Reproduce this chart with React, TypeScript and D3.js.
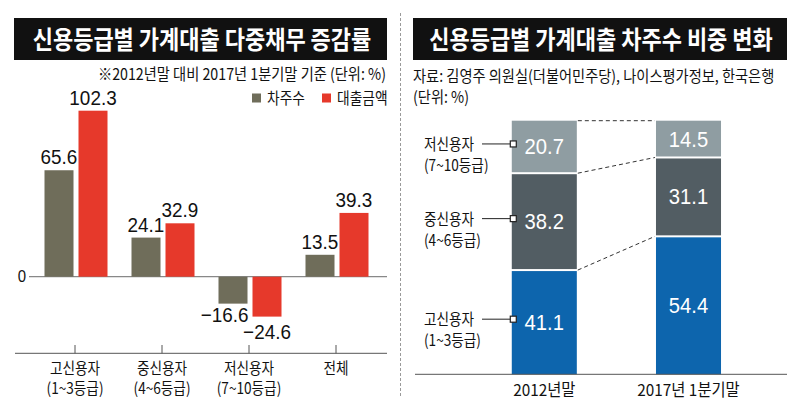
import React from "react";
import * as d3 from "d3";

// ---------- data ----------
const leftCategories = ["고신용자", "중신용자", "저신용자", "전체"];
const leftCategorySub = ["(1~3등급)", "(4~6등급)", "(7~10등급)", ""];
const seriesNames = ["차주수", "대출금액"];
const borrowerChange = [65.6, 24.1, -16.6, 13.5];
const amountChange = [102.3, 32.9, -24.6, 39.3];

const periods = ["2012년말", "2017년 1분기말"];
const shareKeys = ["high", "mid", "low"];
const highShare = [41.1, 54.4];
const midShare = [38.2, 31.1];
const lowShare = [20.7, 14.5];
const shareLabels = ["고신용자", "중신용자", "저신용자"];
const shareSub = ["(1~3등급)", "(4~6등급)", "(7~10등급)"];

const leftTitle = "신용등급별 가계대출 다중채무 증감률";
const leftNote = "※2012년말 대비 2017년 1분기말 기준 (단위: %)";
const rightTitle = "신용등급별 가계대출 차주수 비중 변화";
const rightSource = "자료: 김영주 의원실(더불어민주당), 나이스평가정보, 한국은행";
const rightUnit = "(단위: %)";

// ---------- styles ----------
const KR = "'Noto Sans CJK KR', 'Noto Sans', sans-serif";
const NUM = "'Liberation Sans', Arial, sans-serif";
const SERIES_COLORS = ["#6f6d5a", "#e6392b"];
const SHARE_COLORS: Record<string, string> = { high: "#0d65ad", mid: "#525d63", low: "#8f9da2" };

function T(props: {
  x: number; y: number; sx?: number; anchor?: string; size?: number; weight?: string | number;
  fill?: string; family?: string; children: React.ReactNode;
}) {
  const { x, y, sx = 0.87, anchor = "start", size = 16, weight = "normal", fill = "#111", family = KR, children } = props;
  return (
    <text
      transform={`translate(${x},${y}) scale(${sx},1)`}
      textAnchor={anchor as any}
      fontSize={size}
      fontWeight={weight as any}
      fill={fill}
      fontFamily={family}
    >
      {children}
    </text>
  );
}

export default function App() {
  const W = 800, H = 415;

  // ----- left chart scales -----
  const x0 = d3.scaleBand<string>().domain(leftCategories).range([32.5, 380.5]).paddingInner(0).paddingOuter(0);
  const x1 = d3.scaleBand<string>().domain(seriesNames).range([12, 75]).paddingInner(0.147);
  const y = d3.scaleLinear().domain([-40, 110]).range([341.6, 98.2]);
  const leftValues = [borrowerChange, amountChange];

  // ----- right chart scales -----
  const xr = d3.scaleBand<string>().domain(periods).range([472.2, 760.6]).paddingInner(0.549).paddingOuter(0.2745);
  const yr = d3.scaleLinear().domain([0, 100]).range([374.3, 120.7]);
  const table = periods.map((p, i) => ({ period: p, high: highShare[i], mid: midShare[i], low: lowShare[i] }));
  const stacked = d3.stack<any>().keys(shareKeys)(table);
  const bw = xr.bandwidth();

  return (
    <svg width={W} height={H} style={{ position: "absolute", left: 0, top: 0, background: "#fff" }}>
      <rect x={0} y={0} width={W} height={H} fill="#fff" />

      {/* separator */}
      <line x1={400.5} x2={400.5} y1={13} y2={398} stroke="#9a9a9a" strokeWidth={1} strokeDasharray="3,2" />

      {/* ===== LEFT PANEL ===== */}
      <rect x={14} y={18} width={373} height={42} fill="#111" />
      <T x={202} y={49} anchor="middle" size={25} weight="bold" fill="#fff" sx={0.88}>{leftTitle}</T>
      <T x={386} y={80} anchor="end" size={16} sx={0.89}>{leftNote}</T>

      {/* legend */}
      {seriesNames.map((s, i) => {
        const lx = i === 0 ? 252 : 322;
        return (
          <g key={s}>
            <rect x={lx} y={93.5} width={9} height={9} fill={SERIES_COLORS[i]} />
            <T x={lx + 15} y={104} size={16} sx={0.86}>{s}</T>
          </g>
        );
      })}

      {/* zero line */}
      <line x1={29} x2={387} y1={y(0)} y2={y(0)} stroke="#888" strokeWidth={1.2} />
      <T x={26} y={y(0) + 5.5} anchor="end" size={17} family={NUM} sx={0.88}>0</T>

      {/* bars */}
      {leftCategories.map((c, ci) => (
        <g key={c} transform={`translate(${x0(c)},0)`}>
          {seriesNames.map((s, si) => {
            const v = leftValues[si][ci];
            const bx = x1(s)!;
            const top = y(Math.max(0, v));
            const bot = y(Math.min(0, v));
            let lx = bx + x1.bandwidth() / 2;
            let anchor = "middle";
            let ly = top - 6;
            if (v < 0) {
              if (si === 0) { lx = bx + x1.bandwidth() + 1; anchor = "end"; ly = bot + 18; }
              else { ly = bot + 22; }
            }
            return (
              <g key={s}>
                <rect x={bx} y={top} width={x1.bandwidth()} height={bot - top} fill={SERIES_COLORS[si]} />
                <T x={lx} y={ly} anchor={anchor} size={21} family={NUM} sx={0.9}>
                  {v < 0 ? "\u2212" + Math.abs(v).toFixed(1) : v.toFixed(1)}
                </T>
              </g>
            );
          })}
        </g>
      ))}

      {/* bottom axis */}
      <line x1={15} x2={387} y1={353.3} y2={353.3} stroke="#555" strokeWidth={1} />
      {leftCategories.map((c, ci) => {
        const cx = x0(c)! + x0.bandwidth() / 2 - 1;
        return (
          <g key={c}>
            <line x1={cx} x2={cx} y1={345} y2={353.3} stroke="#555" strokeWidth={1} />
            <T x={cx} y={374} anchor="middle" size={15.5} sx={0.88}>{c}</T>
            {leftCategorySub[ci] && <T x={cx} y={394} anchor="middle" size={15.5} sx={0.88}>{leftCategorySub[ci]}</T>}
          </g>
        );
      })}

      {/* ===== RIGHT PANEL ===== */}
      <rect x={413} y={18} width={374} height={42} fill="#111" />
      <T x={601} y={49} anchor="middle" size={25} weight="bold" fill="#fff" sx={0.88}>{rightTitle}</T>
      <T x={413} y={82} size={16} sx={0.89}>{rightSource}</T>
      <T x={413} y={102.5} size={16} sx={0.89}>{rightUnit}</T>

      {/* stacked bars */}
      {stacked.map((ser) => (
        <g key={ser.key}>
          {ser.map((d: any, i: number) => {
            const bx = xr(periods[i])!;
            const yTop = yr(d[1]) + (d[1] < 99.99 ? 1 : 0);
            const yBot = yr(d[0]) - (d[0] > 0.01 ? 1 : 0);
            const mid = (yr(d[1]) + yr(d[0])) / 2;
            const v = d[1] - d[0];
            return (
              <g key={i}>
                <rect x={bx} y={yTop} width={bw} height={yBot - yTop} fill={SHARE_COLORS[ser.key]} />
                <T x={bx + bw / 2} y={mid + 7.5} anchor="middle" size={22} family={NUM} fill="#fff" sx={0.92}>
                  {v.toFixed(1)}
                </T>
              </g>
            );
          })}
        </g>
      ))}

      {/* dashed connectors */}
      {stacked.map((ser) => {
        const a = ser[0], b = ser[1];
        return (
          <line
            key={"c" + ser.key}
            x1={xr(periods[0])! + bw + 1}
            y1={yr(a[1])}
            x2={xr(periods[1])! - 1}
            y2={yr(b[1])}
            stroke="#333"
            strokeWidth={1}
            strokeDasharray="4,3"
          />
        );
      })}

      {/* left labels with markers */}
      {stacked.map((ser, k) => {
        const d = ser[0];
        const my = (yr(d[1]) + yr(d[0])) / 2 - 3;
        const mx = xr(periods[0])! + 1.5;
        return (
          <g key={"l" + ser.key}>
            <line x1={482} x2={mx - 3} y1={my} y2={my} stroke="#222" strokeWidth={1} />
            <rect x={mx - 3} y={my - 3} width={6} height={6} fill="#fff" stroke="#222" strokeWidth={1.2} />
            <T x={424} y={my + 6} size={15.5} sx={0.88}>{shareLabels[k]}</T>
            <T x={424} y={my + 27} size={15.5} sx={0.88}>{shareSub[k]}</T>
          </g>
        );
      })}

      {/* right bottom axis */}
      <line x1={415} x2={787} y1={374.3} y2={374.3} stroke="#555" strokeWidth={1} />
      {periods.map((p) => (
        <T key={p} x={xr(p)! + bw / 2} y={396} anchor="middle" size={16.5} sx={0.93}>{p}</T>
      ))}
    </svg>
  );
}
